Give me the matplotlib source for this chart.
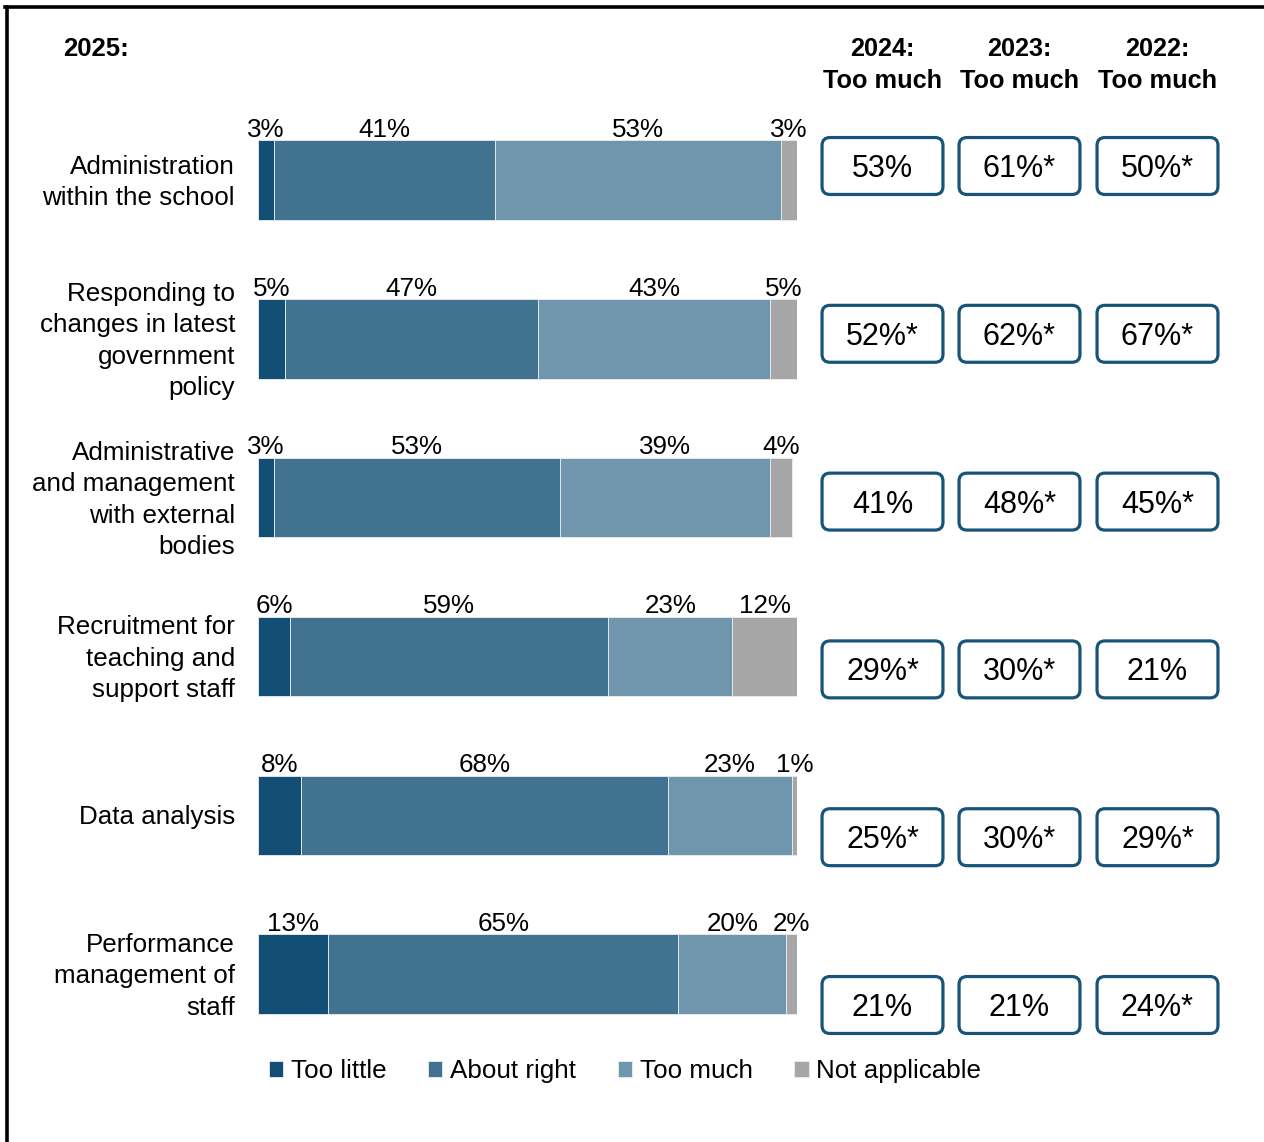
import numpy as np
import matplotlib.pyplot as plt
from matplotlib.patches import FancyBboxPatch
from matplotlib.lines import Line2D

plt.rcParams['font.family'] = ['Liberation Sans', 'DejaVu Sans']

categories = ["Administration\nwithin the school",
              "Responding to\nchanges in latest\ngovernment\npolicy",
              "Administrative\nand management\nwith external\nbodies",
              "Recruitment for\nteaching and\nsupport staff",
              "Data analysis",
              "Performance\nmanagement of\nstaff"]
too_little = [3, 5, 3, 6, 8, 13]
about_right = [41, 47, 53, 59, 68, 65]
too_much = [53, 43, 39, 23, 23, 20]
not_applicable = [3, 5, 4, 12, 1, 2]

series_names = ["Too little", "About right", "Too much", "Not applicable"]
colors = ["#134f74", "#41728f", "#7096ae", "#a6a6a6"]

years = ["2024:\nToo much", "2023:\nToo much", "2022:\nToo much"]
much_2024 = ["53%", "52%*", "41%", "29%*", "25%*", "21%"]
much_2023 = ["61%*", "62%*", "48%*", "30%*", "30%*", "21%"]
much_2022 = ["50%*", "67%*", "45%*", "21%", "29%*", "24%*"]

W, H = 1264, 1142
fig = plt.figure(figsize=(W / 100, H / 100), dpi=100)

def fx(px):
    return px / W

def fy(py):
    return 1 - py / H

# stacked bars
ax = fig.add_axes([fx(258), fy(1053.4), fx(797) - fx(258), fy(100.6) - fy(1053.4)])
y = np.arange(len(categories))
left = np.zeros(len(categories))
handles = []
for name, vals, c in zip(series_names, [too_little, about_right, too_much, not_applicable], colors):
    vals = np.array(vals, dtype=float)
    b = ax.barh(y, vals, left=left, height=0.5, color=c, edgecolor='#e8eef2',
                linewidth=0.6, label=name)
    handles.append(b)
    for i, v in enumerate(vals):
        ax.annotate(f"{v:.0f}%", (left[i] + v / 2, y[i] - 0.25), xytext=(0, 2.5),
                    textcoords='offset points', ha='center', va='baseline',
                    fontsize=18.7, color='black')
    left += vals

ax.set_xlim(0, 100)
ax.set_ylim(len(categories) - 0.5, -0.5)
ax.axis('off')

# row labels, right aligned just left of the bars
for i, cat in enumerate(categories):
    ax.text(-23 / 539, y[i] + 0.014, cat, transform=ax.get_yaxis_transform(),
            ha='right', va='center', fontsize=18.7, linespacing=1.39)

# previous-year boxes
box_x = [882.5, 1019.5, 1157.5]
box_w, box_h = 121, 57
for col, vals in enumerate([much_2024, much_2023, much_2022]):
    cx = box_x[col]
    fig.text(fx(cx), fy(65), years[col], ha='center', va='center', fontsize=18.2,
             fontweight='bold', linespacing=1.42)
    for i, txt in enumerate(vals):
        cy = 166 + i * 167.8
        box = FancyBboxPatch((fx(cx - box_w / 2 + 8), fy(cy + box_h / 2 - 8)),
                             fx(box_w - 16), fy(0) - fy(box_h - 16),
                             boxstyle="round,pad=0.0063", transform=fig.transFigure,
                             facecolor='white', edgecolor='#185479', linewidth=2.3,
                             mutation_aspect=W / H)
        fig.add_artist(box)
        fig.text(fx(cx), fy(cy + 3), txt, ha='center', va='center', fontsize=22)

fig.text(fx(63), fy(49), "2025:", ha='left', va='center', fontsize=18.5, fontweight='bold')

# legend
fig.legend(handles=handles, labels=series_names, loc='center',
           bbox_to_anchor=(fx(625), fy(1071)), ncol=4, frameon=False,
           fontsize=18.7, handlelength=0.55, handleheight=0.55, handletextpad=0.3,
           columnspacing=1.6)

# outer frame
fig.add_artist(Line2D([fx(7), fx(7)], [fy(6.5), 0], transform=fig.transFigure,
                      color='black', linewidth=2.6))
fig.add_artist(Line2D([fx(5), 1], [fy(6.5), fy(6.5)], transform=fig.transFigure,
                      color='black', linewidth=2.6))

fig.savefig("out.png", dpi=100)
